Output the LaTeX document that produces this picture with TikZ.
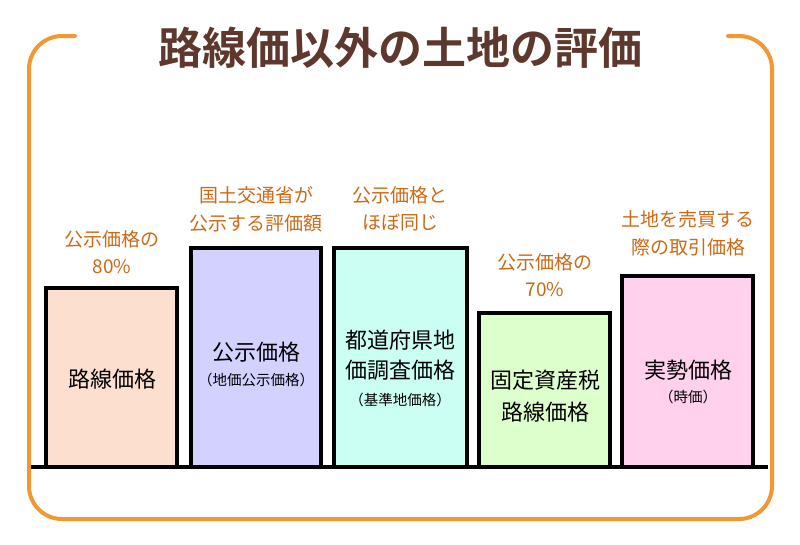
\documentclass[tikz,border=0pt]{standalone}
\usepackage{fontspec}
\setmainfont{Noto Sans CJK JP}
\newfontfamily\jpbold{Noto Sans CJK JP Bold}
\definecolor{frameor}{RGB}{242,152,50}
\definecolor{titlebr}{RGB}{94,56,44}
\definecolor{labelor}{RGB}{205,105,20}
\definecolor{fillA}{RGB}{253,223,207}
\definecolor{fillB}{RGB}{211,209,255}
\definecolor{fillC}{RGB}{204,255,244}
\definecolor{fillD}{RGB}{221,255,204}
\definecolor{fillE}{RGB}{255,209,236}
\begin{document}
\begin{tikzpicture}[x=1pt,y=-1pt,
  pricebox/.style={draw=black,line width=3.5pt,anchor=south west,inner sep=0pt,outer sep=0pt},
  toplabel/.style={text=labelor,font=\fontsize{19}{19}\selectfont,inner sep=0pt},
  boxtext/.style={text=black,font=\fontsize{22}{22}\selectfont,inner sep=0pt},
  subtext/.style={text=black,font=\fontsize{14.5}{14.5}\selectfont,inner sep=0pt}]
\useasboundingbox (0,0) rectangle (800,544);
% frame
\draw[frameor,line width=4pt,rounded corners=33pt,line cap=round]
  (75,36) -- (29,36) -- (29,519) -- (772,519) -- (772,36) -- (728,36);
% title
\node[text=titlebr,font=\jpbold\fontsize{44}{44}\selectfont,inner sep=0pt] (title) at (400,48) {路線価以外の土地の評価};
% boxes
\node[pricebox,fill=fillA,minimum width=131pt,minimum height=179pt] (b1) at (46,467) {};
\node[pricebox,fill=fillB,minimum width=130pt,minimum height=219pt] (b2) at (191,467) {};
\node[pricebox,fill=fillC,minimum width=133pt,minimum height=219pt] (b3) at (334,467) {};
\node[pricebox,fill=fillD,minimum width=131pt,minimum height=154pt] (b4) at (479,467) {};
\node[pricebox,fill=fillE,minimum width=131pt,minimum height=191pt] (b5) at (622,467) {};
% ground
\draw[black,line width=4pt] (31,467) coordinate (g1) -- (768,467) coordinate (g2);
% labels above
\node[toplabel] (l1a) at (112,239) {公示価格の};
\node[toplabel] (l1b) at (112,267) {80\%};
\node[toplabel] (l2a) at (256,195) {国土交通省が};
\node[toplabel] (l2b) at (256,223) {公示する評価額};
\node[toplabel] (l3a) at (400,195) {公示価格と};
\node[toplabel] (l3b) at (400,223) {ほぼ同じ};
\node[toplabel] (l4a) at (545,262) {公示価格の};
\node[toplabel] (l4b) at (545,290) {70\%};
\node[toplabel] (l5a) at (688,219) {土地を売買する};
\node[toplabel] (l5b) at (688,247) {際の取引価格};
% box texts
\node[boxtext] (t1) at (112,379) {路線価格};
\node[boxtext] (t2) at (256,352) {公示価格};
\node[subtext] (s2) at (256,380) {（地価公示価格）};
\node[boxtext] (t3a) at (400,340) {都道府県地};
\node[boxtext] (t3b) at (400,370) {価調査価格};
\node[subtext] (s3) at (400,400) {（基準地価格）};
\node[boxtext] (t4a) at (545,380) {固定資産税};
\node[boxtext] (t4b) at (545,412) {路線価格};
\node[boxtext] (t5) at (688,370) {実勢価格};
\node[subtext] (s5) at (688,397) {（時価）};
\end{tikzpicture}
\end{document}
